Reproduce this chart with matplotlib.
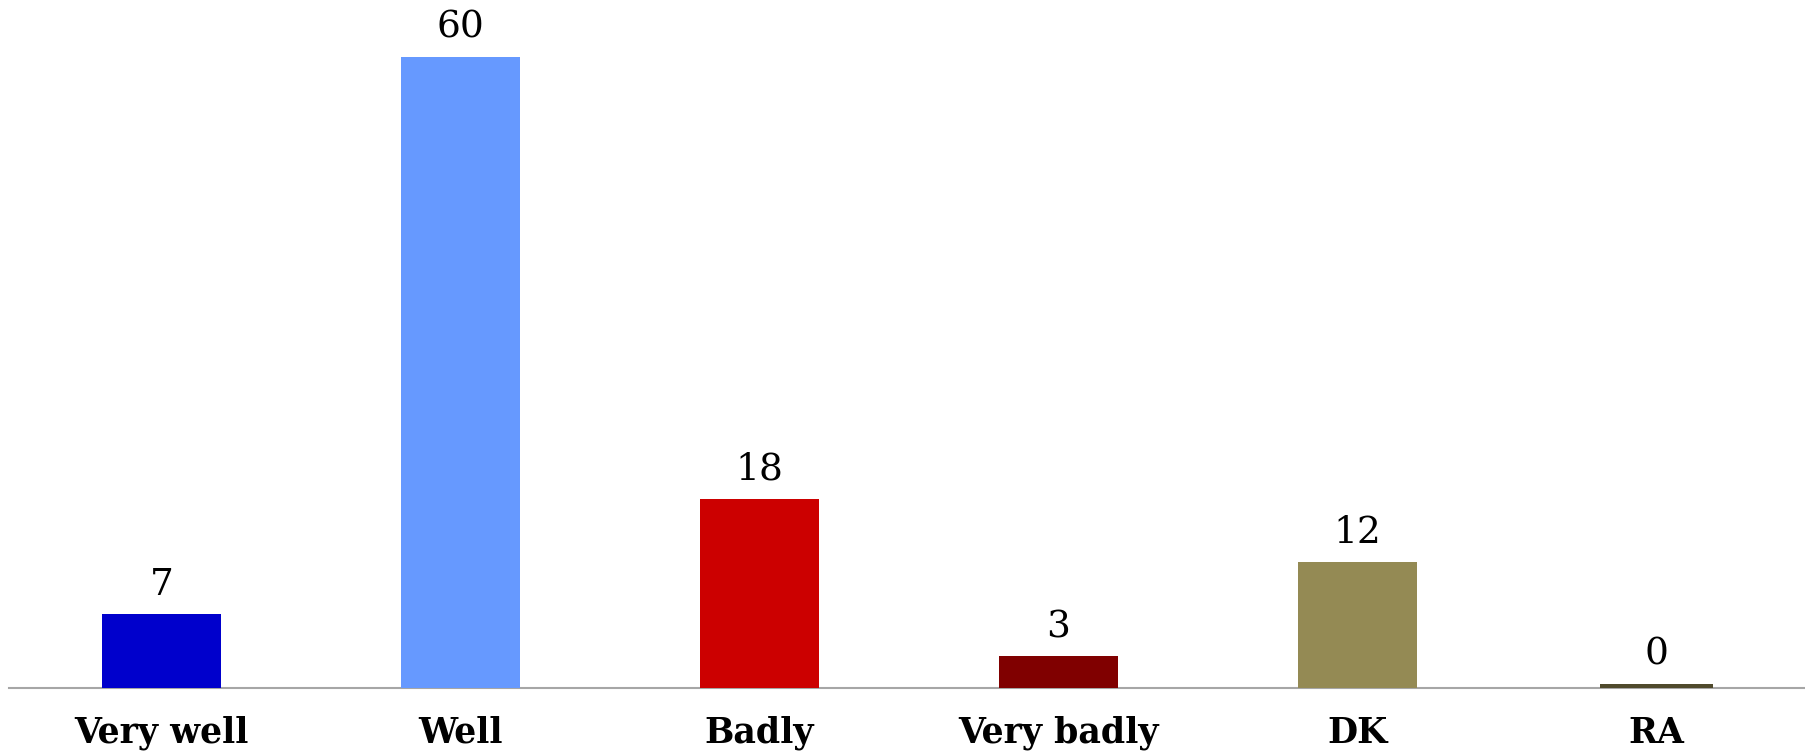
# Imports
from matplotlib import pyplot as plt

# Data
categories: list[str] = ["Very well", "Well", "Badly", "Very badly", "DK", "RA"]
values: list[int] = [7, 60, 18, 3, 12, 0]
colors: list[str] = ["#0000CC", "#6699FF", "#CC0000", "#800000", "#948A54", "#4F4A2C"]

plt.rcParams["font.family"] = ["DejaVu Serif"]

fig = plt.figure(figsize = (18.06, 7.55), dpi = 100)
ax = fig.add_axes([0.005, 0.0887, 0.995, 0.9113])

# Bars (zero values still get a thin visible stub, like the original)
MIN_VISIBLE: float = 0.4
positions = list(range(len(categories)))
heights = [max(v, MIN_VISIBLE) for v in values]
widths = [0.4 if v > 0 else 0.38 for v in values]
bars = ax.bar(positions, heights, width = widths, color = colors, linewidth = 0, zorder = 3)

# Value labels
for bar, value in zip(bars, values):
	ax.annotate(str(value), (bar.get_x() + bar.get_width() / 2, bar.get_height()),
		xytext = (0, 8), textcoords = "offset points",
		ha = "center", va = "bottom", fontsize = 27, color = "black")

# Axes style
ax.set_xlim(-0.51, 5.5)
ax.set_ylim(0, 65.4)
ax.set_xticks(positions)
ax.set_xticklabels(categories, fontsize = 25, fontweight = "bold")
ax.tick_params(axis = "x", length = 0, pad = 20)
ax.set_yticks([])
for side in ["top", "right", "left"]:
	ax.spines[side].set_visible(False)
ax.spines["bottom"].set_color("#A6A6A6")
ax.spines["bottom"].set_linewidth(1.5)
ax.spines["bottom"].set_zorder(2)

fig.savefig("out.png", dpi = 100)
